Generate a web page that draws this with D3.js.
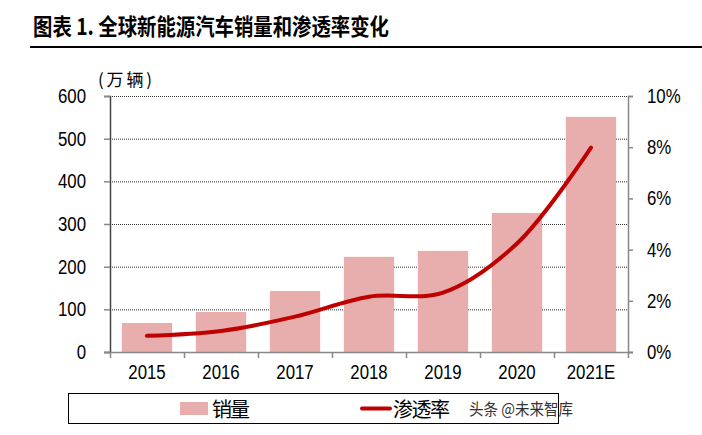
<!DOCTYPE html>
<html><head><meta charset="utf-8">
<script src="https://cdn.jsdelivr.net/npm/d3@7/dist/d3.min.js"></script>
<style>body{margin:0;background:#fff}svg{display:block}</style>
</head><body>
<script>
const years = ["2015","2016","2017","2018","2019","2020","2021E"];
const sales = [68, 94, 143, 223, 237, 326, 551];
const penetration = [0.63, 0.82, 1.38, 2.16, 2.32, 4.24, 7.98];
const leftTicks = [0,100,200,300,400,500,600];
const rightTicks = [0,2,4,6,8,10];

const W=702,H=435;
const svg=d3.select("body").append("svg").attr("width",W).attr("height",H);
const L=110,R=628,T=96,B=352;
const x=d3.scaleBand().domain(years).range([L,R]).paddingInner(0.32).paddingOuter(0.16);
const y=d3.scaleLinear().domain([0,600]).range([B,T]);
const y2=d3.scaleLinear().domain([0,10]).range([B,T]);
const num="'Liberation Sans', Arial, sans-serif";
const cjk="'Noto Sans CJK SC', sans-serif";
function narrow(sel){ sel.each(function(){ const w=this.getComputedTextLength(); d3.select(this).attr("textLength",w*0.84).attr("lengthAdjust","spacingAndGlyphs"); }); }

// title
svg.append("text").attr("x",33).attr("y",35).attr("font-family",cjk).attr("font-weight","bold")
  .attr("font-size",23).attr("fill","#000").attr("textLength",356).attr("lengthAdjust","spacingAndGlyphs")
  .text("图表 1. 全球新能源汽车销量和渗透率变化");
svg.append("line").attr("x1",30).attr("x2",702).attr("y1",47).attr("y2",47).attr("stroke","#000").attr("stroke-width",2);

// unit
svg.append("text").attr("x",98).attr("y",86).attr("font-family",cjk).attr("font-size",17).attr("fill","#000")
  .attr("textLength",54).text("(万辆)");

// gridlines
svg.append("g").selectAll("line").data(leftTicks.filter(d=>d>0)).join("line")
  .attr("x1",L).attr("x2",R).attr("y1",d=>y(d)+0.5).attr("y2",d=>y(d)+0.5)
  .attr("stroke","#333").attr("stroke-width",1).attr("stroke-dasharray","1,1");

// bars
svg.append("g").selectAll("rect").data(years).join("rect")
  .attr("x",d=>x(d)).attr("width",x.bandwidth())
  .attr("y",(d,i)=>y(sales[i])).attr("height",(d,i)=>B-y(sales[i]))
  .attr("fill","#E8AEAE");

// line
const line=d3.line().x((d,i)=>x(years[i])+x.bandwidth()/2).y(d=>y2(d)).curve(d3.curveCatmullRom.alpha(0.5));
svg.append("path").datum(penetration).attr("d",line).attr("fill","none")
  .attr("stroke","#C00000").attr("stroke-width",4).attr("stroke-linecap","round");

// left axis
const gl=svg.append("g").attr("transform",`translate(${L},0)`)
  .call(d3.axisLeft(y).tickValues(leftTicks).tickSize(6).tickPadding(18));
// right axis
const gr=svg.append("g").attr("transform",`translate(${R},0)`)
  .call(d3.axisRight(y2).tickValues(rightTicks).tickFormat(d=>d+"%").tickSize(5).tickPadding(14));
// bottom axis
const xb=d3.scaleLinear().domain([0,7]).range([L,R]);
const gb=svg.append("g").attr("transform",`translate(0,${B})`)
  .call(d3.axisBottom(xb).tickValues(d3.range(0,8)).tickFormat("").tickSize(6).tickSizeOuter(0));
gb.select(".domain").attr("d",`M${L-6},0.5H${R+5}`);
const xl=svg.append("g").selectAll("text").data(years).join("text")
  .attr("x",d=>x(d)+x.bandwidth()/2).attr("y",B+27).attr("text-anchor","middle")
  .attr("font-family",num).attr("font-size",20).attr("fill","#000").text(d=>d);
[gl,gr,gb].forEach(g=>{
  g.selectAll(".domain").attr("stroke","#888").attr("stroke-width",1.5);
  g.selectAll(".tick line").attr("stroke","#888").attr("stroke-width",1.5);
  g.selectAll("text").attr("font-family",num).attr("font-size",20).attr("fill","#000");
});
gl.select(".domain").attr("stroke","#444");
narrow(xl); narrow(gl.selectAll("text")); narrow(gr.selectAll("text"));

// legend
svg.append("rect").attr("x",68.5).attr("y",393.5).attr("width",490).attr("height",30)
  .attr("fill","none").attr("stroke","#000").attr("stroke-width",1);
svg.append("rect").attr("x",180).attr("y",402).attr("width",28).attr("height",13).attr("fill","#E8AEAE");
svg.append("text").attr("x",212).attr("y",417).attr("font-family",cjk).attr("font-size",20).attr("textLength",38).text("销量");
svg.append("line").attr("x1",362).attr("x2",390).attr("y1",408.5).attr("y2",408.5).attr("stroke","#C00000").attr("stroke-width",4).attr("stroke-linecap","round");
svg.append("text").attr("x",393).attr("y",417).attr("font-family",cjk).attr("font-size",20).attr("textLength",57).text("渗透率");
// watermark
svg.append("text").attr("x",469).attr("y",415).attr("font-family",cjk).attr("font-size",16)
  .attr("fill","#333").attr("textLength",104).attr("lengthAdjust","spacingAndGlyphs").text("头条 @未来智库");
</script>
</body></html>
